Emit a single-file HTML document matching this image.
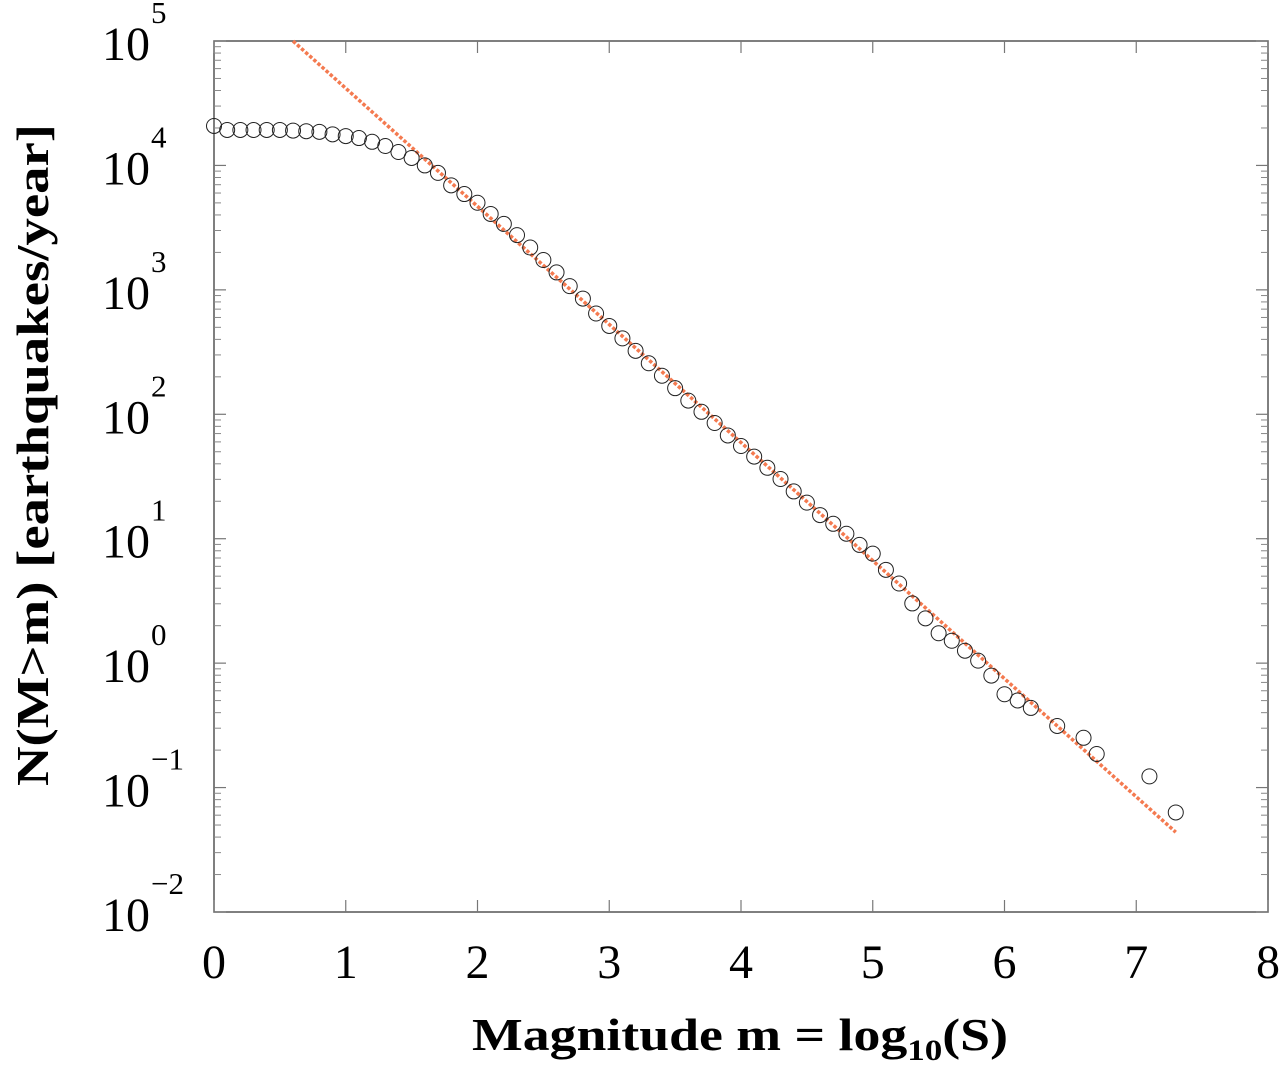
<!DOCTYPE html>
<html><head><meta charset="utf-8"><style>
html,body{margin:0;padding:0;background:#fff;}
svg{display:block;font-family:"Liberation Serif",serif;}
</style></head><body>
<svg id="chart" width="1280" height="1072" viewBox="0 0 1280 1072" xmlns="http://www.w3.org/2000/svg">
<g id="axes"></g>
<g id="fit"></g>
<g id="pts"></g>
<text x="740" y="1050" text-anchor="middle" font-weight="bold" font-size="46" textLength="536" lengthAdjust="spacingAndGlyphs">Magnitude m = log<tspan font-size="30" dy="10">10</tspan><tspan dy="-10">(S)</tspan></text>
<text transform="translate(48,455) rotate(-90)" text-anchor="middle" font-weight="bold" font-size="46" textLength="662" lengthAdjust="spacingAndGlyphs">N(M&gt;m) [earthquakes/year]</text>
</svg>
<script>
const magnitudes = [0,0.1,0.2,0.3,0.4,0.5,0.6,0.7,0.8,0.9,1.0,1.1,1.2,1.3,1.4,1.5,1.6,1.7,1.8,1.9,2.0,2.1,2.2,2.3,2.4,2.5,2.6,2.7,2.8,2.9,3.0,3.1,3.2,3.3,3.4,3.5,3.6,3.7,3.8,3.9,4.0,4.1,4.2,4.3,4.4,4.5,4.6,4.7,4.8,4.9,5.0,5.1,5.2,5.3,5.4,5.5,5.6,5.7,5.8,5.9,6.0,6.1,6.2,6.4,6.6,6.7,7.1,7.3];
const logCounts = [4.317,4.285,4.285,4.285,4.285,4.285,4.28,4.275,4.27,4.25,4.236,4.22,4.19,4.156,4.108,4.06,4.0,3.94,3.84,3.77,3.70,3.61,3.53,3.44,3.34,3.24,3.14,3.03,2.93,2.81,2.71,2.61,2.51,2.41,2.31,2.21,2.11,2.02,1.93,1.83,1.745,1.66,1.57,1.48,1.38,1.29,1.19,1.12,1.04,0.95,0.88,0.75,0.64,0.48,0.36,0.24,0.18,0.10,0.02,-0.10,-0.25,-0.30,-0.36,-0.505,-0.60,-0.73,-0.91,-1.20];
const fitRange = [0.6, 7.3];
const fitIntercept = [5.569];
const fitSlope = [-0.949];
const xTicks = [0,1,2,3,4,5,6,7,8];
const yDecades = [-2,-1,0,1,2,3,4,5];

const NS="http://www.w3.org/2000/svg";
const L=214,R=1268,T=41,B=912;
const X=v=>L+(v-0)/(8-0)*(R-L);
const Y=lg=>T+(5-lg)/(5-(-2))*(B-T);
function mk(tag,attrs,parent){const e=document.createElementNS(NS,tag);for(const k in attrs)e.setAttribute(k,attrs[k]);parent.appendChild(e);return e;}
const ax=document.getElementById('axes');
const frame=mk('rect',{x:L,y:T,width:R-L,height:B-T,fill:'none',stroke:'#555','stroke-width':1.5},ax);


xTicks.forEach(v=>{
  const x=X(v);
  const t1=mk('line',{x1:x,y1:B,x2:x,y2:B-12,stroke:'#777','stroke-width':1.2},ax);
  
  
  const t2=mk('line',{x1:x,y1:T,x2:x,y2:T+12,stroke:'#777','stroke-width':1.2},ax);
  
  
  const lb=mk('text',{x:x,y:978,'text-anchor':'middle','font-size':48},ax);
  lb.textContent=v;
  
  
});
yDecades.forEach(d=>{
  const y=Y(d);
  [[L,12],[R,-12]].forEach(([x0,len])=>{
    const t=mk('line',{x1:x0,y1:y,x2:x0+len,y2:y,stroke:'#777','stroke-width':1.2},ax);
    
    
  });
  if(d<5){for(let m=2;m<=9;m++){const ym=Y(d+Math.log10(m));
    [[L,7],[R,-7]].forEach(([x0,len])=>{
      const t=mk('line',{x1:x0,y1:ym,x2:x0+len,y2:ym,stroke:'#888','stroke-width':1},ax);
      
      
    });}}
  const lb=mk('text',{x:150,y:y+19,'text-anchor':'end','font-size':48},ax);
  lb.textContent='10';
  
  
  const sp=mk('text',{x:151,y:y-18,'text-anchor':'start','font-size':31},ax);
  sp.textContent=String(d).replace('-','\u2212');
  
  
});
const fg=document.getElementById('fit');
const fl=mk('line',{x1:X(fitRange[0]),y1:Y(fitIntercept[0]+fitSlope[0]*fitRange[0]),x2:X(fitRange[1]),y2:Y(fitIntercept[0]+fitSlope[0]*fitRange[1]),stroke:'#f47a50','stroke-width':3.5,'stroke-dasharray':'3.5 2'},fg);


const pg=document.getElementById('pts');
magnitudes.forEach((m,i)=>{
  const c=mk('circle',{cx:X(m),cy:Y(logCounts[i]),r:7.5,fill:'none',stroke:'#222','stroke-width':1},pg);
  
  
});
</script>
</body></html>
